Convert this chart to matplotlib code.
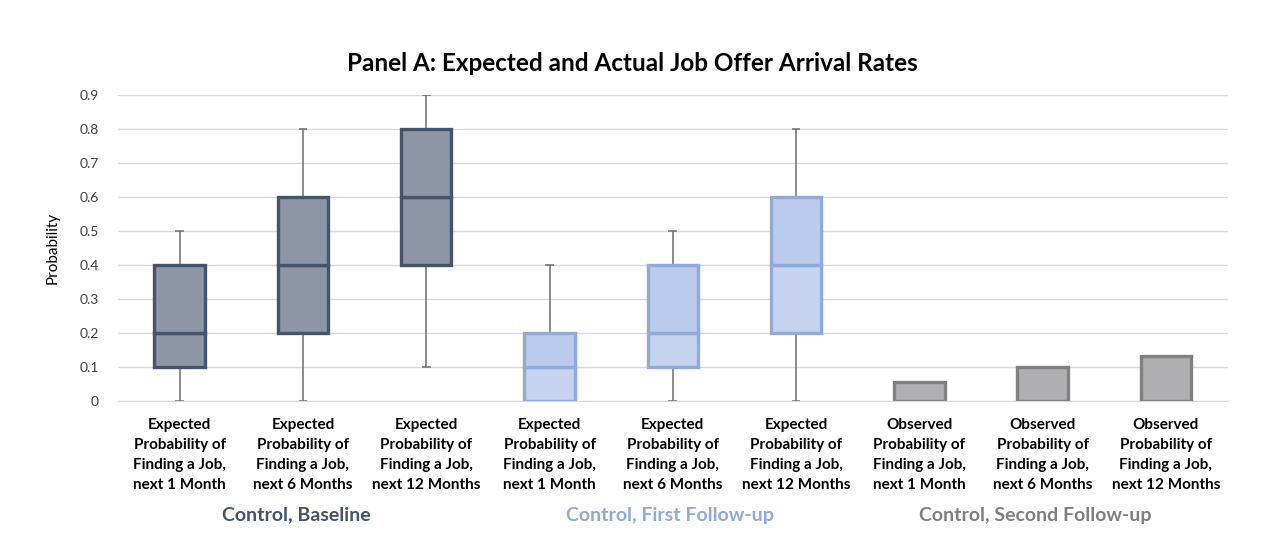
import matplotlib
matplotlib.use('Agg')
import matplotlib.pyplot as plt
from matplotlib.ticker import FuncFormatter

plt.rcParams['font.family'] = ['Lato', 'DejaVu Sans']

# box plot data (expected probabilities)
box_labels = [
    'Expected\nProbability of\nFinding a Job,\nnext 1 Month',
    'Expected\nProbability of\nFinding a Job,\nnext 6 Months',
    'Expected\nProbability of\nFinding a Job,\nnext 12 Months',
    'Expected\nProbability of\nFinding a Job,\nnext 1 Month',
    'Expected\nProbability of\nFinding a Job,\nnext 6 Months',
    'Expected\nProbability of\nFinding a Job,\nnext 12 Months',
]
whis_lo = [0.0, 0.0, 0.1, 0.0, 0.0, 0.0]
q1 = [0.1, 0.2, 0.4, 0.0, 0.1, 0.2]
med = [0.2, 0.4, 0.6, 0.1, 0.2, 0.4]
q3 = [0.4, 0.6, 0.8, 0.2, 0.4, 0.6]
whis_hi = [0.5, 0.8, 0.9, 0.4, 0.5, 0.8]

# observed probabilities (second follow-up)
obs_labels = [
    'Observed\nProbability of\nFinding a Job,\nnext 1 Month',
    'Observed\nProbability of\nFinding a Job,\nnext 6 Months',
    'Observed\nProbability of\nFinding a Job,\nnext 12 Months',
]
obs_values = [0.055, 0.1, 0.133]

groups = ['Control, Baseline', 'Control, First Follow-up', 'Control, Second Follow-up']
group_colors = ['#44546A', '#8FAADC', '#7F7F7F']

fig = plt.figure(figsize=(12.63, 5.38), dpi=100)
ax = fig.add_axes([0.0934, 0.2546, 0.8786, 0.5688])

w = 0.41
for i in range(6):
    x = i
    if i < 3:
        lower_fill, upper_fill, edge = '#8C96A7', '#8C96A7', '#44546A'
    else:
        lower_fill, upper_fill, edge = '#C7D4F0', '#BACBEC', '#8FAADC'
    ax.vlines(x, whis_lo[i], q1[i], color='#6E6E6E', lw=1.1, zorder=2)
    ax.vlines(x, q3[i], whis_hi[i], color='#6E6E6E', lw=1.1, zorder=2)
    ax.hlines([whis_lo[i], whis_hi[i]], x - 0.035, x + 0.035, color='#6E6E6E', lw=1.1, zorder=2)
    ax.bar(x, med[i] - q1[i], bottom=q1[i], width=w, color=lower_fill,
           edgecolor=edge, lw=2.4, zorder=3)
    ax.bar(x, q3[i] - med[i], bottom=med[i], width=w, color=upper_fill,
           edgecolor=edge, lw=2.4, zorder=3)

obs_x = [6, 7, 8]
ax.bar(obs_x, obs_values, width=w, color='#AFAEB0', edgecolor='#808080', lw=2.4, zorder=3)

ax.set_xlim(-0.5, 8.5)
ax.set_ylim(0, 0.9)
ax.set_yticks([i / 10 for i in range(10)])
ax.yaxis.set_major_formatter(FuncFormatter(lambda v, p: '0' if v == 0 else f'{v:.1f}'))
ax.grid(axis='y', color='#D9D9D9', lw=1, zorder=0)
ax.set_axisbelow(True)
for s in ['top', 'right', 'left']:
    ax.spines[s].set_visible(False)
ax.spines['bottom'].set_color('#D9D9D9')
ax.tick_params(axis='y', length=0, labelsize=10, pad=14, colors='#404040')
ax.tick_params(axis='x', length=0, pad=12)

ax.set_xticks(range(9))
ax.set_xticklabels(box_labels + obs_labels, fontsize=11, fontweight='bold',
                   linespacing=1.55, color='black')

ax.set_ylabel('Probability', fontsize=11, color='black', labelpad=14)

fig.suptitle('Panel A: Expected and Actual Job Offer Arrival Rates',
             x=0.501, y=0.904, fontsize=17.5, fontweight='bold')

group_x = [0.95, 3.98, 6.94]
for gx, name, col in zip(group_x, groups, group_colors):
    ax.text(gx, -0.373, name, ha='center', va='center', fontsize=14,
            fontweight='bold', color=col, transform=ax.get_xaxis_transform(),
            clip_on=False)

fig.savefig('out.png', dpi=100)
